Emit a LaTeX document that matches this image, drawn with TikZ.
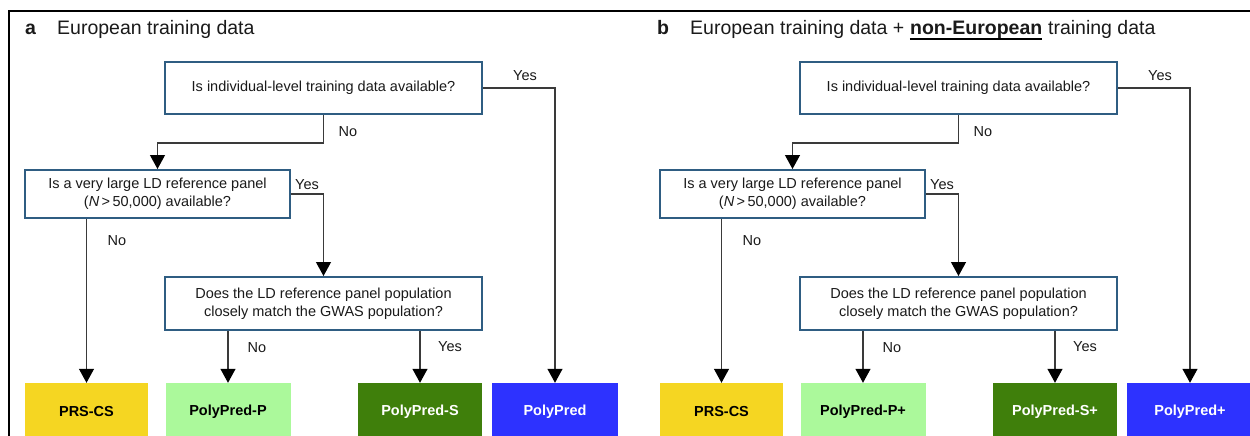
\documentclass[tikz,border=0pt]{standalone}
\usepackage{fontspec}
\setmainfont{Liberation Sans}
\usetikzlibrary{arrows.meta}
\definecolor{qborder}{HTML}{2F5D82}
\definecolor{cyel}{HTML}{F5D622}
\definecolor{clgreen}{HTML}{ABF99B}
\definecolor{cdgreen}{HTML}{3F7F0B}
\definecolor{cblue}{HTML}{2D32FF}
\definecolor{txt}{HTML}{1A1A1A}
\definecolor{linec}{HTML}{3A3A3A}
\tikzset{
  qbox/.style={draw=qborder, line width=2pt, fill=white, align=center,
    font=\fontsize{14.5}{18}\selectfont, text=txt, inner sep=0pt},
  rbox/.style={inner sep=0pt, font=\bfseries\fontsize{14.5}{17}\selectfont},
  lbl/.style={font=\fontsize{14.5}{17}\selectfont, text=txt, inner sep=0pt},
  ttl/.style={anchor=base west, inner sep=0pt, font=\fontsize{19.5}{22}\selectfont, text=txt},
  conn/.style={draw=linec, line width=1.2pt},
  arr/.style={conn, -{Triangle[length=14pt,width=15pt,color=black]}},
  frame/.style={draw=black, line width=2pt},
}
\newcommand\flowpanel[2]{%
  \node[qbox, minimum width=317, minimum height=52] (#1q1) at (323.5,88)
    {Is individual-level training data available?};
  \node[qbox, minimum width=265, minimum height=48] (#1q2) at (157.5,194)
    {Is a very large LD reference panel\\(\textit{N}\,>\,50,000) available?};
  \node[qbox, minimum width=317, minimum height=53] (#1q3) at (323.5,303.5)
    {Does the LD reference panel population\\closely match the GWAS population?};
  \node[rbox, fill=cyel, text=black, minimum width=123, minimum height=57] (#1r1) at (86.5,411.5) {PRS-CS};
  \node[rbox, fill=clgreen, text=black, minimum width=125, minimum height=57] (#1r2) at (228,411.5) {PolyPred-P#2};
  \node[rbox, fill=cdgreen, text=white, minimum width=124, minimum height=57] (#1r3) at (420,411.5) {PolyPred-S#2};
  \node[rbox, fill=cblue, text=white, minimum width=126, minimum height=57] (#1r4) at (555,411.5) {PolyPred#2};
  \draw[arr] (#1q1.south) -- ++(0,28) -| (#1q2.north);
  \draw[arr] (#1q1.east) -| (#1r4.north);
  \draw[arr] (#1q2.east) -| (#1q3.north);
  \draw[arr] (#1q2.south -| #1r1.north) -- (#1r1.north);
  \draw[arr] (#1q3.south -| #1r2.north) -- (#1r2.north);
  \draw[arr] (#1q3.south -| #1r3.north) -- (#1r3.north);
  \node[lbl] (#1l1) at (525,76) {Yes};
  \node[lbl] (#1l2) at (348,132) {No};
  \node[lbl] (#1l3) at (307,185) {Yes};
  \node[lbl] (#1l4) at (117,241) {No};
  \node[lbl] (#1l5) at (257,348) {No};
  \node[lbl] (#1l6) at (450,347) {Yes};
}
\begin{document}
\begin{tikzpicture}[x=1pt, y=-1pt]
  \useasboundingbox (0,0) rectangle (1250,436);
  \fill[white] (0,0) rectangle (1250,436);
  \draw[frame] (9,436) -- (9,11) -- (1250,11);
  \node[ttl, font=\bfseries\fontsize{19.5}{22}\selectfont] (ta) at (25,35) {a};
  \node[ttl] (tta) at (57,35) {European training data};
  \flowpanel{a}{}
  \node[ttl, font=\bfseries\fontsize{19.5}{22}\selectfont] (tb) at (657,35) {b};
  \node[ttl] (ttb1) at (690,35) {European training data +};
  \node[ttl, font=\bfseries\fontsize{19.5}{22}\selectfont] (ttb2) at ([xshift=5.4pt]ttb1.base east) {non-European};
  \node[ttl] (ttb3) at ([xshift=5.4pt]ttb2.base east) {training data};
  \draw[line width=1.6pt] ([yshift=-4pt]ttb2.base west) -- ([yshift=-4pt]ttb2.base east);
  \begin{scope}[xshift=635]
    \flowpanel{b}{\textbf{+}}
  \end{scope}
\end{tikzpicture}
\end{document}
